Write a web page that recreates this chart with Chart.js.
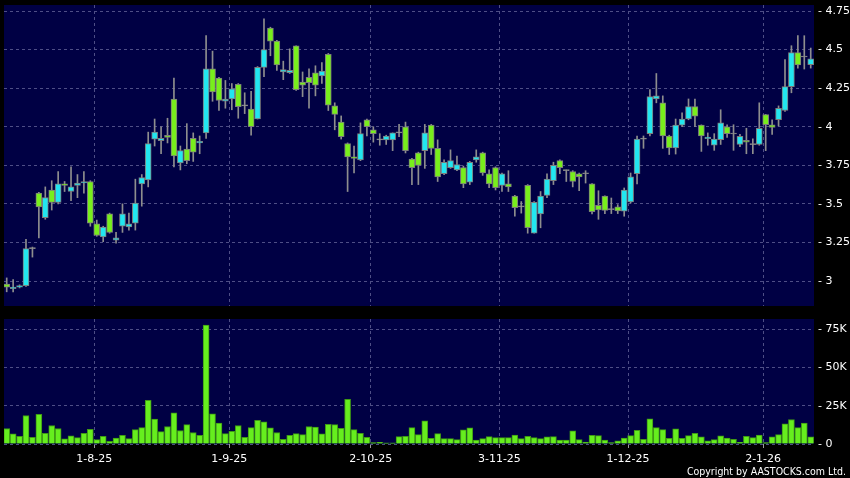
<!DOCTYPE html>
<html>
<head>
<meta charset="utf-8">
<script src="https://cdn.jsdelivr.net/npm/chart.js@4.4.1/dist/chart.umd.min.js"></script>
<style>
  html, body { margin: 0; padding: 0; background: #000; }
  #wrap { position: relative; width: 850px; height: 478px; overflow: hidden; }
  #priceChart { position: absolute; left: 0; top: 0; }
  #volumeChart { position: absolute; left: 0; top: 310px; }
  #copy { position: absolute; right: 4px; top: 465px; color: #fff; font: 10.5px "DejaVu Sans Condensed", "DejaVu Sans", sans-serif; }
</style>
</head>
<body>
<div id="wrap">
  <canvas id="priceChart" width="850" height="310"></canvas>
  <canvas id="volumeChart" width="850" height="168"></canvas>
  <div id="copy">Copyright by AASTOCKS.com Ltd.</div>
</div>
<script>
// daily OHLC
const opens = [2.98, 2.95, 2.96, 2.97, 3.21, 3.57, 3.41, 3.59, 3.51, 3.63,
  3.58, 3.62, 3.635, 3.645, 3.37, 3.285, 3.435, 3.265, 3.355, 3.35,
  3.375, 3.63, 3.655, 3.92, 3.91, 3.945, 4.18, 3.765, 3.855, 3.925,
  3.895, 3.96, 4.375, 4.315, 4.165, 4.18, 4.275, 4.135, 4.115, 4.05,
  4.385, 4.64, 4.555, 4.355, 4.35, 4.525, 4.29, 4.32, 4.35, 4.33,
  4.47, 4.135, 4.03, 3.89, 3.805, 3.785, 4.045, 3.98, 3.915, 3.915,
  3.915, 3.96, 4.0, 3.79, 3.83, 3.845, 4.01, 3.86, 3.695, 3.735,
  3.72, 3.735, 3.64, 3.785, 3.83, 3.695, 3.735, 3.62, 3.63, 3.55,
  3.48, 3.62, 3.31, 3.435, 3.555, 3.65, 3.78, 3.715, 3.71, 3.695,
  3.695, 3.63, 3.49, 3.55, 3.463, 3.48, 3.452, 3.512, 3.695, 3.92,
  3.955, 4.18, 4.155, 3.94, 3.862, 4.01, 4.05, 4.13, 4.01, 3.922,
  3.88, 3.916, 4.0, 3.953, 3.885, 3.912, 3.884, 3.885, 4.078, 4.013,
  4.045, 4.105, 4.26, 4.48, 4.452, 4.402];
const highs = [3.02, 3.01, 2.975, 3.27, 3.22, 3.575, 3.61, 3.65, 3.71, 3.645,
  3.74, 3.69, 3.71, 3.65, 3.395, 3.355, 3.44, 3.315, 3.50, 3.44,
  3.66, 3.69, 3.965, 4.05, 4.0, 4.055, 4.315, 3.875, 4.02, 3.96,
  3.94, 4.59, 4.49, 4.32, 4.30, 4.28, 4.28, 4.22, 4.23, 4.39,
  4.70, 4.645, 4.56, 4.425, 4.505, 4.525, 4.355, 4.375, 4.395, 4.415,
  4.475, 4.155, 4.07, 3.895, 3.875, 4.025, 4.05, 4.0, 3.955, 3.945,
  3.96, 4.015, 4.03, 3.795, 3.835, 4.015, 4.015, 3.915, 3.785, 3.85,
  3.81, 3.745, 3.775, 3.85, 3.835, 3.72, 3.74, 3.70, 3.715, 3.555,
  3.515, 3.625, 3.515, 3.58, 3.695, 3.77, 3.785, 3.72, 3.715, 3.70,
  3.715, 3.632, 3.585, 3.552, 3.538, 3.495, 3.603, 3.70, 3.94, 3.94,
  4.24, 4.345, 4.20, 3.945, 4.05, 4.09, 4.18, 4.18, 4.012, 3.96,
  3.955, 4.11, 4.013, 4.013, 3.95, 3.99, 3.921, 4.155, 4.08, 4.045,
  4.135, 4.435, 4.525, 4.59, 4.59, 4.51];
const lows = [2.93, 2.93, 2.955, 2.965, 3.155, 3.28, 3.40, 3.46, 3.50, 3.58,
  3.52, 3.54, 3.57, 3.355, 3.29, 3.255, 3.31, 3.245, 3.315, 3.33,
  3.33, 3.485, 3.61, 3.875, 3.825, 3.895, 3.74, 3.72, 3.76, 3.775,
  3.825, 3.925, 4.165, 4.105, 4.12, 4.11, 4.055, 4.085, 3.945, 4.05,
  4.325, 4.46, 4.365, 4.305, 4.345, 4.235, 4.195, 4.12, 4.20, 4.28,
  4.105, 3.98, 3.92, 3.58, 3.70, 3.78, 3.94, 3.90, 3.88, 3.885,
  3.845, 3.935, 3.83, 3.625, 3.625, 3.73, 3.82, 3.645, 3.69, 3.73,
  3.715, 3.605, 3.625, 3.77, 3.685, 3.605, 3.59, 3.58, 3.58, 3.42,
  3.44, 3.31, 3.31, 3.345, 3.54, 3.625, 3.695, 3.645, 3.61, 3.585,
  3.635, 3.435, 3.40, 3.437, 3.437, 3.437, 3.42, 3.505, 3.63, 3.86,
  3.94, 4.155, 3.86, 3.82, 3.823, 4.0, 4.045, 4.0, 3.84, 3.88,
  3.847, 3.885, 3.93, 3.847, 3.87, 3.825, 3.826, 3.88, 3.845, 3.95,
  4.005, 4.10, 4.22, 4.38, 4.374, 4.38];
const closes = [2.96, 2.96, 2.97, 3.21, 3.21, 3.48, 3.54, 3.51, 3.63, 3.62,
  3.61, 3.635, 3.645, 3.375, 3.295, 3.35, 3.315, 3.28, 3.435, 3.37,
  3.505, 3.67, 3.89, 3.965, 3.925, 3.93, 3.81, 3.845, 3.78, 3.835,
  3.905, 4.375, 4.225, 4.17, 4.18, 4.245, 4.13, 4.135, 4.0, 4.385,
  4.50, 4.555, 4.40, 4.37, 4.365, 4.24, 4.27, 4.285, 4.27, 4.36,
  4.14, 4.08, 3.935, 3.805, 3.795, 3.955, 4.0, 3.955, 3.915, 3.94,
  3.96, 3.96, 3.845, 3.735, 3.75, 3.96, 3.86, 3.675, 3.77, 3.78,
  3.755, 3.63, 3.77, 3.805, 3.70, 3.63, 3.605, 3.695, 3.61, 3.475,
  3.48, 3.345, 3.51, 3.55, 3.66, 3.75, 3.735, 3.715, 3.645, 3.675,
  3.695, 3.45, 3.46, 3.458, 3.463, 3.455, 3.59, 3.675, 3.92, 3.92,
  4.195, 4.20, 3.94, 3.862, 4.01, 4.05, 4.13, 4.068, 3.94, 3.933,
  3.92, 4.025, 3.955, 3.953, 3.938, 3.90, 3.884, 3.99, 4.013, 3.995,
  4.12, 4.26, 4.48, 4.40, 4.452, 4.44];
// volume in thousands
const volumes = [10.1, 6.6, 5.0, 18.6, 4.4, 19.3, 7.0, 12.1, 10.1, 3.3,
  5.3, 4.2, 7.0, 9.6, 2.9, 5.0, 1.8, 3.9, 5.7, 3.5,
  9.4, 10.7, 28.5, 16.2, 8.1, 11.4, 20.4, 8.8, 12.7, 7.5,
  5.7, 77.6, 19.7, 13.6, 6.8, 8.3, 12.1, 4.4, 10.7, 15.4,
  14.5, 10.5, 7.5, 3.1, 5.7, 6.8, 6.1, 11.4, 11.0, 6.6,
  12.9, 12.7, 10.3, 29.2, 9.4, 7.0, 4.4, 0.9, 1.1, 0.7,
  0.7, 4.8, 5.0, 10.7, 6.1, 15.1, 3.7, 6.8, 3.5, 3.5,
  2.9, 9.2, 10.5, 2.6, 3.5, 4.8, 4.2, 4.2, 4.2, 5.9,
  3.5, 5.0, 4.2, 3.5, 4.6, 4.8, 2.6, 2.6, 8.6, 2.9,
  1.3, 5.7, 5.5, 2.6, 0.9, 2.0, 3.9, 5.5, 9.0, 3.1,
  16.4, 10.7, 9.4, 3.7, 9.9, 3.7, 5.5, 7.0, 4.6, 2.0,
  2.9, 5.3, 3.9, 3.1, 1.1, 5.0, 4.2, 5.9, 0.9, 4.6,
  6.1, 13.2, 16.0, 10.7, 13.6, 4.6];

const monthLabels = ['1-8-25', '1-9-25', '2-10-25', '3-11-25', '1-12-25', '2-1-26'];
const monthFirstIndex = [14, 35, 57, 77, 97, 118];
const priceTicks = [3, 3.25, 3.5, 3.75, 4, 4.25, 4.5, 4.75];
const volumeTicks = [0, 25, 50, 75];

const UP = '#22e6f0', DOWN = '#78ee1c', FLAT = '#9a9a9a';
const PLOT_BG = '#000044';
const GRID = '#4e4e86';
const FONT = { family: 'DejaVu Sans', size: 11 };

const n = opens.length;
const idx = Array.from({ length: n }, (_, i) => i);
const bodyColors = idx.map(i => closes[i] > opens[i] ? UP : (closes[i] < opens[i] ? DOWN : FLAT));
const monthTicks = monthFirstIndex.map(i => i - 0.4);

const plotBg = {
    id: 'plotBg',
    beforeDraw(chart) {
        const { ctx, chartArea: a } = chart;
        ctx.save();
        ctx.fillStyle = PLOT_BG;
        ctx.fillRect(a.left, a.top, a.right - a.left, a.bottom - a.top);
        ctx.restore();
    }
};

// no extra room for half-labels, plot edges come from layout padding only
function noLabelPadding(s) {
    s.paddingTop = 0;
    s.paddingBottom = 0;
    s.paddingLeft = 0;
    s.paddingRight = 0;
}

function xScale(showLabels) {
    return {
        type: 'linear',
        min: -0.42,
        max: 125.51,
        offset: false,
        afterBuildTicks: s => { s.ticks = monthTicks.map(v => ({ value: v })); },
        afterFit: s => { noLabelPadding(s); s.height = showLabels ? 34 : 0; },
        grid: { color: GRID, offset: false, drawTicks: showLabels, tickLength: 4, tickColor: '#9a9a9a' },
        border: { display: false, dash: [3, 3] },
        ticks: {
            display: showLabels,
            autoSkip: false,
            maxRotation: 0,
            color: '#ffffff',
            font: FONT,
            padding: 5,
            callback: (v, i) => monthLabels[i]
        }
    };
}

function yScale(ticks, min, max, fmt) {
    return {
        position: 'right',
        min: min,
        max: max,
        afterBuildTicks: s => { s.ticks = ticks.map(v => ({ value: v })); },
        afterFit: s => { noLabelPadding(s); s.width = 36; },
        grid: { color: GRID, drawTicks: false },
        border: { display: false, dash: [3, 3] },
        ticks: { color: '#ffffff', font: FONT, padding: 4, callback: v => '- ' + fmt(v) }
    };
}

Chart.defaults.animation = false;

new Chart(document.getElementById('priceChart'), {
    type: 'bar',
    data: {
        datasets: [{
            label: 'body',
            data: idx.map(i => ({ x: i, y: [opens[i], closes[i]] })),
            backgroundColor: bodyColors,
            borderColor: '#7c7c7c',
            borderWidth: 1,
            borderSkipped: false,
            barThickness: 6,
            minBarLength: 1,
            grouped: false
        }, {
            label: 'wick',
            data: idx.map(i => ({ x: i, y: [lows[i], highs[i]] })),
            backgroundColor: '#8e8e8e',
            borderWidth: 0,
            barThickness: 1,
            grouped: false
        }]
    },
    options: {
        responsive: false,
        devicePixelRatio: 1,
        layout: { padding: { left: 4, top: 5, right: 0, bottom: 4 } },
        scales: {
            x: xScale(false),
            y: yScale(priceTicks, 2.838, 4.789, v => String(v))
        },
        plugins: { legend: { display: false }, tooltip: { enabled: false } }
    },
    plugins: [plotBg]
});

new Chart(document.getElementById('volumeChart'), {
    type: 'bar',
    data: {
        datasets: [{
            label: 'volume',
            data: idx.map(i => ({ x: i, y: volumes[i] })),
            backgroundColor: '#66ee1e',
            borderColor: '#3f9a14',
            borderWidth: 1,
            borderSkipped: 'bottom',
            barThickness: 6
        }]
    },
    options: {
        responsive: false,
        devicePixelRatio: 1,
        layout: { padding: { left: 4, top: 9, right: 0, bottom: 0 } },
        scales: {
            x: xScale(true),
            y: yScale(volumeTicks, 0, 81.6, v => v === 0 ? '0' : v + 'K')
        },
        plugins: { legend: { display: false }, tooltip: { enabled: false } }
    },
    plugins: [plotBg]
});
</script>
</body>
</html>
